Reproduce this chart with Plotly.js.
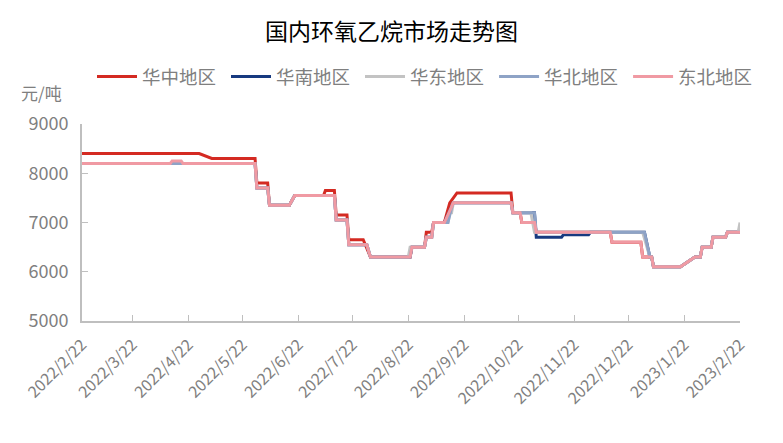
<!DOCTYPE html>
<html>
<head>
<meta charset="utf-8">
<script src="https://cdn.plot.ly/plotly-3.0.1.min.js"></script>
<style>html,body{margin:0;padding:0;background:#fff;}#chart{width:783px;height:443px;}</style>
</head>
<body>
<div id="chart"></div>
<script>
const seriesNames = ["华中地区", "华南地区", "华东地区", "华北地区", "东北地区"];
const seriesColors = ["#d42a22", "#173a80", "#c3c3c3", "#8ea3c6", "#f09aa3"];

const huazhongDates = ["2022-02-22","2022-04-28","2022-05-05","2022-05-29","2022-05-30","2022-06-05","2022-06-06","2022-06-17","2022-06-20","2022-07-06","2022-07-07","2022-07-12","2022-07-13","2022-07-19","2022-07-20","2022-07-28","2022-08-01","2022-08-23","2022-08-24","2022-08-31","2022-09-01","2022-09-04","2022-09-05","2022-09-11","2022-09-14","2022-09-18","2022-10-18","2022-10-19","2022-10-23","2022-10-24","2022-10-31","2022-11-01","2022-12-12","2022-12-13","2022-12-29","2022-12-30","2023-01-04","2023-01-05","2023-01-20","2023-01-28","2023-01-31","2023-02-01","2023-02-06","2023-02-07","2023-02-14","2023-02-15","2023-02-22"];
const huazhongValues = [8400,8400,8300,8300,7800,7800,7350,7350,7550,7550,7650,7650,7150,7150,6650,6650,6300,6300,6500,6500,6800,6800,7000,7000,7400,7600,7600,7200,7200,7000,7000,6800,6800,6600,6600,6300,6300,6100,6100,6300,6300,6500,6500,6700,6700,6800,6800];

const huananDates = ["2022-02-22","2022-05-29","2022-05-30","2022-06-05","2022-06-06","2022-06-17","2022-06-20","2022-07-12","2022-07-13","2022-07-19","2022-07-20","2022-07-30","2022-08-01","2022-08-23","2022-08-24","2022-08-31","2022-09-01","2022-09-04","2022-09-05","2022-09-11","2022-09-16","2022-10-18","2022-10-19","2022-10-31","2022-11-01","2022-11-15","2022-11-16","2022-11-30","2022-12-01","2022-12-31","2023-01-03","2023-01-04","2023-01-05","2023-01-20","2023-01-28","2023-01-31","2023-02-01","2023-02-06","2023-02-07","2023-02-14","2023-02-15","2023-02-22"];
const huananValues = [8200,8200,7700,7700,7350,7350,7550,7550,7050,7050,6550,6550,6300,6300,6500,6500,6700,6700,7000,7000,7400,7400,7200,7200,6700,6700,6750,6750,6800,6800,6300,6300,6100,6100,6300,6300,6500,6500,6700,6700,6800,6800];

const huadongDates = ["2022-02-22","2022-05-29","2022-05-30","2022-06-05","2022-06-06","2022-06-17","2022-06-20","2022-07-12","2022-07-13","2022-07-19","2022-07-20","2022-07-30","2022-08-01","2022-08-22","2022-08-23","2022-08-31","2022-09-01","2022-09-04","2022-09-05","2022-09-13","2022-09-14","2022-09-15","2022-09-16","2022-10-18","2022-10-19","2022-10-29","2022-10-31","2022-12-30","2023-01-03","2023-01-04","2023-01-05","2023-01-20","2023-01-28","2023-01-31","2023-02-01","2023-02-06","2023-02-07","2023-02-14","2023-02-15","2023-02-21","2023-02-22"];
const huadongValues = [8200,8200,7700,7700,7350,7350,7550,7550,7050,7050,6550,6550,6300,6300,6500,6500,6700,6700,7000,7000,7200,7200,7400,7400,7200,7200,6800,6800,6300,6300,6100,6100,6300,6300,6500,6500,6700,6700,6800,6800,7000];

const huabeiDates = ["2022-02-22","2022-05-29","2022-05-30","2022-06-05","2022-06-06","2022-06-17","2022-06-20","2022-07-12","2022-07-13","2022-07-19","2022-07-20","2022-07-30","2022-08-01","2022-08-23","2022-08-24","2022-08-31","2022-09-01","2022-09-04","2022-09-05","2022-09-13","2022-09-15","2022-09-16","2022-10-18","2022-10-19","2022-10-31","2022-11-01","2022-12-31","2023-01-03","2023-01-04","2023-01-05","2023-01-20","2023-01-28","2023-01-31","2023-02-01","2023-02-06","2023-02-07","2023-02-14","2023-02-15","2023-02-22"];
const huabeiValues = [8200,8200,7700,7700,7350,7350,7550,7550,7050,7050,6550,6550,6300,6300,6500,6500,6700,6700,7000,7000,7300,7400,7400,7200,7200,6800,6800,6300,6300,6100,6100,6300,6300,6500,6500,6700,6700,6800,6800];

const dongbeiDates = ["2022-02-22","2022-04-12","2022-04-13","2022-04-18","2022-04-19","2022-05-29","2022-05-30","2022-06-05","2022-06-06","2022-06-17","2022-06-20","2022-07-12","2022-07-13","2022-07-19","2022-07-20","2022-07-30","2022-08-01","2022-08-23","2022-08-24","2022-08-31","2022-09-01","2022-09-04","2022-09-05","2022-09-11","2022-09-16","2022-10-18","2022-10-19","2022-10-23","2022-10-24","2022-10-31","2022-11-01","2022-12-12","2022-12-13","2022-12-29","2022-12-30","2023-01-04","2023-01-05","2023-01-20","2023-01-28","2023-01-31","2023-02-01","2023-02-06","2023-02-07","2023-02-14","2023-02-15","2023-02-22"];
const dongbeiValues = [8200,8200,8250,8250,8200,8200,7700,7700,7350,7350,7550,7550,7050,7050,6550,6550,6300,6300,6500,6500,6700,6700,7000,7000,7400,7400,7200,7200,7000,7000,6800,6800,6600,6600,6300,6300,6100,6100,6300,6300,6500,6500,6700,6700,6800,6800];

const tickDates = ["2022-02-22","2022-03-22","2022-04-22","2022-05-22","2022-06-22","2022-07-22","2022-08-22","2022-09-22","2022-10-22","2022-11-22","2022-12-22","2023-01-22","2023-02-22"];
const tickLabels = ["2022/2/22","2022/3/22","2022/4/22","2022/5/22","2022/6/22","2022/7/22","2022/8/22","2022/9/22","2022/10/22","2022/11/22","2022/12/22","2023/1/22","2023/2/22"];
const yTicks = [5000,6000,7000,8000,9000];

const allDates = [huazhongDates, huananDates, huadongDates, huabeiDates, dongbeiDates];
const allValues = [huazhongValues, huananValues, huadongValues, huabeiValues, dongbeiValues];

const font = '"Noto Sans CJK SC", "Noto Sans", sans-serif';
const grey = '#7f7f7f';
const traces = seriesNames.map((n, i) => ({
  type: 'scatter', mode: 'lines', name: n,
  legend: i < 3 ? 'legend' : 'legend2',
  x: allDates[i], y: allValues[i],
  line: {color: seriesColors[i], width: 3}
}));

const legendBase = {orientation: 'h', xref: 'container', yref: 'container', xanchor: 'left', y: 0.826, yanchor: 'middle',
  font: {size: 18.5, color: grey, family: font}, entrywidth: 79, entrywidthmode: 'pixels', itemwidth: 40, tracegroupgap: 0,
  bgcolor: 'rgba(0,0,0,0)'};

const layout = {
  width: 783, height: 443,
  margin: {l: 82, r: 43, t: 124, b: 122},
  paper_bgcolor: '#fff', plot_bgcolor: '#fff',
  font: {family: font, color: grey},
  title: {text: '国内环氧乙烷市场走势图', x: 0.5, xanchor: 'center', y: 0.928, yanchor: 'middle', font: {size: 23, color: '#000', family: font}},
  showlegend: true,
  legend: Object.assign({}, legendBase, {x: 0.1175}),
  legend2: Object.assign({}, legendBase, {x: 0.631}),
  xaxis: {type: 'date', range: ['2022-02-22', '2023-02-22'], tickvals: tickDates, ticktext: tickLabels,
    tickangle: -45, ticks: 'inside', ticklen: 6, tickcolor: '#bfbfbf', showgrid: false, zeroline: false,
    ticklabelstandoff: 6,
    showline: true, linecolor: '#bfbfbf', linewidth: 2, tickfont: {size: 16, color: grey, family: font}},
  yaxis: {range: [5000, 9000], tickvals: yTicks, ticks: 'inside', ticklen: 6, tickcolor: '#bfbfbf',
    showgrid: false, zeroline: false, showline: true, linecolor: '#bfbfbf', linewidth: 2,
    ticklabelstandoff: 8,
    tickfont: {size: 18, color: grey, family: font}},
  annotations: [{text: '元/吨', xref: 'paper', yref: 'paper', x: -0.096, y: 1.16, xanchor: 'left', yanchor: 'middle',
    showarrow: false, font: {size: 17, color: grey, family: font}}]
};

Plotly.newPlot('chart', traces, layout, {displayModeBar: false, staticPlot: true});
</script>
</body>
</html>
